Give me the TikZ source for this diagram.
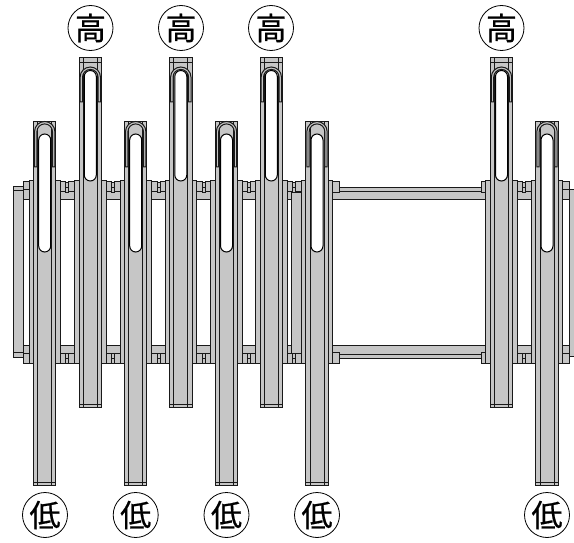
\documentclass[tikz,border=0pt]{standalone}
\usepackage{fontspec}
\newfontfamily\cjkfont[FakeBold=0.6]{Noto Sans CJK JP}
\definecolor{partgray}{HTML}{C6C6C6}
\tikzset{
  part/.style={fill=partgray,draw=black!90,line width=1pt},
  edge/.style={draw=black!90,line width=1pt},
  tag/.style={circle,draw=black,line width=0.8pt,fill=white,minimum size=45pt,inner sep=0pt,font=\cjkfont\fontsize{31}{31}\selectfont}
}
% #1 centre, #2 top, #3 arch top, #4 slot top, #5 slot bottom, #6 hook end, #7 bottom
\newcommand{\bracket}[7]{
\begin{scope}[shift={(#1,0)}]
\draw[part] (-15.7,181) rectangle (15.7,363);
\draw[edge] (-11.2,181) -- (-11.2,363);
\draw[edge] (11.2,181) -- (11.2,363);
\draw[part] (-11.2,#2) rectangle (11.2,#7);
\draw[edge] (-7,#2) -- (-7,#7);
\draw[edge] (7,#2) -- (7,#7);
\draw[edge] (-11.2,{#7-3}) -- (11.2,{#7-3});
\draw[part] (-10.2,#6) -- (-10.2,{#3+10.2}) arc[start angle=180,end angle=360,radius=10.2] -- (10.2,#6) -- (7.8,#6) -- (7.8,{#3+10.2}) arc[start angle=0,end angle=-180,radius=7.8] -- (-7.8,#6) -- cycle;
\draw[fill=white,draw=black,line width=1pt] (-6,{#4+6}) arc[start angle=180,end angle=360,radius=6] -- (6,{#5-6}) arc[start angle=0,end angle=180,radius=6] -- cycle;
\end{scope}
}
% #1 gap centre, #2 block top, #3 bolt top
\newcommand{\clamp}[3]{
\draw[part] ({#1-11},#2) rectangle ({#1-1.5},{#2+9.5});
\draw[part] ({#1+1.5},#2) rectangle ({#1+11},{#2+9.5});
\draw[part] ({#1-1.5},#3) rectangle ({#1+1.5},{#3+10});
\draw[edge] ({#1-1.5},{#3+5}) -- ({#1+1.5},{#3+5});
}
\begin{document}
\begin{tikzpicture}[x=1pt,y=-1pt]
\useasboundingbox (0,0) rectangle (574,543);
% rails
\draw[part] (23,190) rectangle (574,199.5);
\draw[part] (335,187.7) rectangle (485,192);
\draw[part] (23,345.3) rectangle (574,354);
\draw[part] (335,354) rectangle (485,358.3);
% end plates
\draw[part] (13.5,190) rectangle (23.5,356);
\draw[part] (13,187) rectangle (23,190.5);
\draw[part] (13,352) rectangle (23,357);
\draw[part] (291,193) rectangle (301.5,353);
\draw[part] (569,190) rectangle (576,356);
% blocks
\foreach \xc in {67.3,113,158.5,203.5,249,294,524}{
  \clamp{\xc}{182}{183}
  \clamp{\xc}{353.5}{353}
}
\draw[part] (23,182) rectangle (30,190);
\draw[part] (23,353.5) rectangle (30,363);
\draw[part] (328,182) rectangle (339,193);
\draw[part] (328,352) rectangle (339,363);
\draw[part] (481,182) rectangle (490,193);
\draw[part] (481,352) rectangle (490,363);
\draw[part] (560,182) rectangle (569,190);
\draw[part] (560,353.5) rectangle (569,363);
% tall ones
\foreach \xc in {90.3,180.8,271.3,501.5}{
  \bracket{\xc}{58}{67}{70.5}{181}{102}{407}
  \draw[edge] ({\xc-11.2},63) -- ({\xc+11.2},63);
}
% short ones
\foreach \xc in {44.7,135.7,226.5,317,547}{
  \bracket{\xc}{122}{121.5}{134}{252}{167}{485.7}
}
% labels
\node[tag] (high1) at (90.5,28) {高};
\node[tag] (high2) at (181,28) {高};
\node[tag] (high3) at (271,28) {高};
\node[tag] (high4) at (501.5,28) {高};
\node[tag] (low1) at (45,515) {低};
\node[tag] (low2) at (135.7,515) {低};
\node[tag] (low3) at (226.5,515) {低};
\node[tag] (low4) at (317,515) {低};
\node[tag] (low5) at (547,515) {低};
\end{tikzpicture}
\end{document}
